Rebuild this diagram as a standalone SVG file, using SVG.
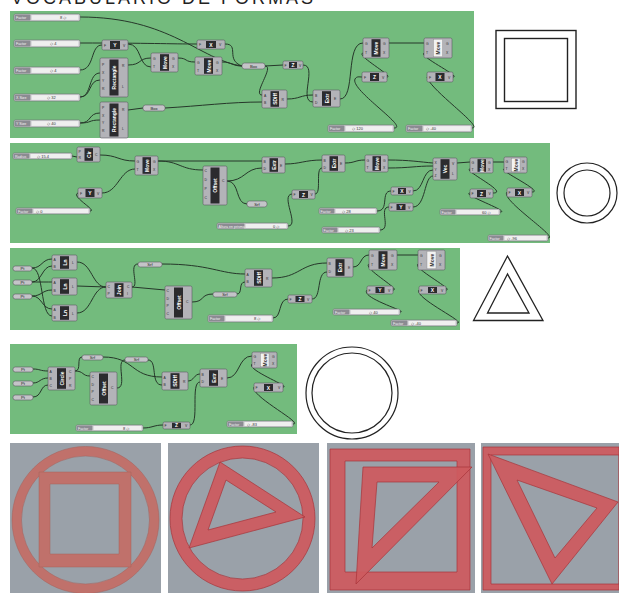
<svg xmlns="http://www.w3.org/2000/svg" width="619" height="593" viewBox="0 0 619 593">
<style>
text{font-family:"Liberation Sans","DejaVu Sans",sans-serif}
.title{font-size:18px;fill:#222;letter-spacing:3px}
.pan{fill:#73bb7d}
.c{fill:#b3b3b8;stroke:#5c5c62;stroke-width:0.6}
.k{fill:#2b2b2e}
.kl{fill:#f2f2f2;stroke:#8a8a8a;stroke-width:0.4}
.v{font-size:5px;font-weight:bold;fill:#fff;text-anchor:middle;dominant-baseline:central}
.vl{font-size:5px;font-weight:bold;fill:#333;text-anchor:middle;dominant-baseline:central}
.h{font-size:5px;font-weight:bold;fill:#fff;text-anchor:middle}
.i{font-size:3.4px;fill:#2a2a2a}
.p{fill:#c4c4c8;stroke:#5c5c62;stroke-width:0.6}
.pt{font-size:4.2px;fill:#222;text-anchor:middle}
.s{fill:#dadadd;stroke:#707075;stroke-width:0.6}
.sl{fill:#8b8b92}
.st{fill:#efefef}
.slt{font-size:3.6px;fill:#f4f4f4}
.sv{font-size:4px;fill:#333}
.w{fill:none;stroke:#26372a;stroke-width:1}
.bg{fill:#9aa1a9}
.ol{fill:none;stroke:#222;stroke-width:1.4}
.r{fill:#cd5a5f;fill-opacity:0.93;stroke:#a8343a;stroke-width:0.7;fill-rule:evenodd}
.r1{fill:#c0716b;stroke:#a5605a;stroke-width:0.5;fill-rule:evenodd}
</style>

<text class="title" x="11" y="4">VOCABULARIO  DE  FORMAS</text>

<g id="panels">
<rect class="pan" x="10" y="11" width="464" height="127"/>
<rect class="pan" x="10" y="143" width="540" height="100"/>
<rect class="pan" x="10" y="248" width="450" height="82"/>
<rect class="pan" x="10" y="344" width="287" height="90"/>
</g>

<g id="connectors">
<path class="w" d="M80,17 C170,17 200,60 242,66"/>
<path class="w" d="M80,43 C150,43 170,44 197,44"/>
<path class="w" d="M80,70 C95,70 90,45 102,45"/>
<path class="w" d="M80,97 C92,97 88,73 100,73"/>
<path class="w" d="M80,97 C92,97 88,80 100,80"/>
<path class="w" d="M80,123 C92,123 88,113 100,113"/>
<path class="w" d="M80,123 C92,123 88,120 100,120"/>
<path class="w" d="M128,44 C142,44 138,67 151,67"/>
<path class="w" d="M128,65 C142,65 138,58 151,58"/>
<path class="w" d="M178,58 C188,58 184,62 195,62"/>
<path class="w" d="M225,44 C240,44 225,60 242,66"/>
<path class="w" d="M222,62 C232,62 232,66 242,66"/>
<path class="w" d="M265,66 L283,65"/>
<path class="w" d="M265,66 C275,66 252,95 262,95"/>
<path class="w" d="M128,110 L143,108"/>
<path class="w" d="M165,108 C200,106 230,102 262,102"/>
<path class="w" d="M287,99 C300,99 300,95 313,95"/>
<path class="w" d="M303,65 C318,65 298,102 313,102"/>
<path class="w" d="M340,99 C356,99 345,43 363,43"/>
<path class="w" d="M389,43 L424,43"/>
<path class="w" d="M394,128 C410,128 350,90 355,79 C357,76 359,77 362,77"/>
<path class="w" d="M387,77 C395,77 355,55 363,53"/>
<path class="w" d="M472,128 C485,128 430,90 427,77"/>
<path class="w" d="M453,77 C462,77 418,56 424,53"/>
<path class="w" d="M72,156 L77,157"/>
<path class="w" d="M100,155 C118,155 118,161 135,161"/>
<path class="w" d="M102,193 C118,193 120,169 135,169"/>
<path class="w" d="M90,211 C98,211 70,196 78,193"/>
<path class="w" d="M158,161 L262,161"/>
<path class="w" d="M158,161 C180,161 180,170 203,170"/>
<path class="w" d="M227,181 C245,181 245,168 262,168"/>
<path class="w" d="M227,181 C240,181 235,204 247,204"/>
<path class="w" d="M288,226 C300,226 280,195 292,194"/>
<path class="w" d="M285,164 C300,164 305,160 322,160"/>
<path class="w" d="M315,194 C322,194 315,168 322,168"/>
<path class="w" d="M345,163 C355,163 355,160 365,160"/>
<path class="w" d="M388,160 C410,160 420,162 433,163"/>
<path class="w" d="M388,168 C410,168 415,166 433,166"/>
<path class="w" d="M413,191 C424,191 422,170 433,170"/>
<path class="w" d="M413,207 C426,207 424,176 433,176"/>
<path class="w" d="M377,211 C390,211 380,191 391,191"/>
<path class="w" d="M380,230 C392,230 378,207 389,207"/>
<path class="w" d="M457,163 L470,162"/>
<path class="w" d="M493,193 C510,193 462,170 470,169"/>
<path class="w" d="M500,212 C512,212 460,194 470,193"/>
<path class="w" d="M493,162 L504,162"/>
<path class="w" d="M532,192 C545,192 498,170 504,169"/>
<path class="w" d="M548,238 C560,238 500,200 507,192"/>
<path class="w" d="M32,268 C42,268 42,259 52,259"/>
<path class="w" d="M32,282 C42,282 42,266 52,266"/>
<path class="w" d="M32,282 C42,282 42,282 52,282"/>
<path class="w" d="M32,296 C42,296 42,290 52,290"/>
<path class="w" d="M32,296 C42,296 42,309 52,309"/>
<path class="w" d="M32,268 C44,268 40,316 52,316"/>
<path class="w" d="M77,262 C92,262 92,287 106,287"/>
<path class="w" d="M77,286 L106,287"/>
<path class="w" d="M77,313 C92,313 92,287 106,287"/>
<path class="w" d="M132,287 C140,287 128,264 138,264"/>
<path class="w" d="M132,287 L165,290"/>
<path class="w" d="M162,264 C210,264 220,274 245,274"/>
<path class="w" d="M192,302 C205,302 200,294 213,294"/>
<path class="w" d="M237,294 C243,294 238,282 245,282"/>
<path class="w" d="M272,278 C300,278 300,263 327,263"/>
<path class="w" d="M273,318 C282,318 278,299 288,299"/>
<path class="w" d="M312,299 C322,299 316,272 327,272"/>
<path class="w" d="M353,267 C362,267 360,255 369,255"/>
<path class="w" d="M397,255 L418,255"/>
<path class="w" d="M393,290 C402,290 362,268 369,264"/>
<path class="w" d="M400,312 C410,312 360,298 367,290"/>
<path class="w" d="M446,290 C455,290 412,268 418,264"/>
<path class="w" d="M457,323 C468,323 414,298 419,290"/>
<path class="w" d="M33,369 C40,369 40,371 48,371"/>
<path class="w" d="M33,383 C40,383 40,378 48,378"/>
<path class="w" d="M33,397 C42,397 40,385 48,385"/>
<path class="w" d="M75,371 C82,371 76,357 82,357"/>
<path class="w" d="M75,371 C84,371 82,376 90,376"/>
<path class="w" d="M103,357 C135,357 130,377 162,377"/>
<path class="w" d="M117,388 C128,388 115,360 125,360"/>
<path class="w" d="M148,360 C158,360 150,385 162,385"/>
<path class="w" d="M188,381 C194,381 194,374 200,374"/>
<path class="w" d="M190,425 C200,425 190,382 200,382"/>
<path class="w" d="M143,428 C152,428 154,425 163,425"/>
<path class="w" d="M227,378 C240,378 238,356 252,356"/>
<path class="w" d="M283,387 C292,387 246,370 252,364"/>
<path class="w" d="M293,424 C305,424 250,396 254,387"/>
</g>

<g id="s1" transform="translate(14,14)"><rect class="s" width="66" height="7" rx="1.5"/><rect class="sl" x="0.5" y="0.5" width="16" height="6" rx="1"/><text class="slt" x="2" y="5">Factor</text><rect class="st" x="18" y="1.2" width="46" height="4.6"/><text class="sv" x="46" y="5">8 ◇</text></g>
<g id="s2" transform="translate(14,40)"><rect class="s" width="66" height="7" rx="1.5"/><rect class="sl" x="0.5" y="0.5" width="16" height="6" rx="1"/><text class="slt" x="2" y="5">Factor</text><rect class="st" x="18" y="1.2" width="46" height="4.6"/><text class="sv" x="36" y="5">◇ 4</text></g>
<g id="s3" transform="translate(14,67)"><rect class="s" width="66" height="7" rx="1.5"/><rect class="sl" x="0.5" y="0.5" width="16" height="6" rx="1"/><text class="slt" x="2" y="5">Factor</text><rect class="st" x="18" y="1.2" width="46" height="4.6"/><text class="sv" x="36" y="5">◇ 4</text></g>
<g id="s4" transform="translate(14,94)"><rect class="s" width="66" height="7" rx="1.5"/><rect class="sl" x="0.5" y="0.5" width="16" height="6" rx="1"/><text class="slt" x="2" y="5">X Size</text><rect class="st" x="18" y="1.2" width="46" height="4.6"/><text class="sv" x="33" y="5">◇ 32</text></g>
<g id="s5" transform="translate(14,120)"><rect class="s" width="66" height="7" rx="1.5"/><rect class="sl" x="0.5" y="0.5" width="16" height="6" rx="1"/><text class="slt" x="2" y="5">Y Size</text><rect class="st" x="18" y="1.2" width="46" height="4.6"/><text class="sv" x="33" y="5">◇ 40</text></g>

<g id="y1" transform="translate(102,40)"><rect class="c" width="26" height="10" rx="1.5"/><rect class="k" x="8" y="1" width="10" height="8"/><text class="h" x="13" y="7">Y</text><text class="i" x="2" y="6.5">F</text><text class="i" x="21" y="6.5">V</text></g>
<g id="rect1" transform="translate(100,58)"><rect class="c" width="28" height="39" rx="1.5"/><rect class="k" x="9.5" y="1.5" width="9" height="36"/><text class="v" transform="translate(14,19.5) rotate(-90)">Rectangle</text><text class="i" x="2" y="8">P</text><text class="i" x="2" y="16">X</text><text class="i" x="2" y="24">Y</text><text class="i" x="2" y="32">R</text><text class="i" x="22" y="9">R</text><text class="i" x="22" y="30">L</text></g>
<g id="rect2" transform="translate(100,102)"><rect class="c" width="28" height="36" rx="1.5"/><rect class="k" x="9.5" y="1.5" width="9" height="33"/><text class="v" transform="translate(14,18) rotate(-90)">Rectangle</text><text class="i" x="2" y="7">P</text><text class="i" x="2" y="14.5">X</text><text class="i" x="2" y="22">Y</text><text class="i" x="2" y="29.5">R</text><text class="i" x="22" y="9">R</text><text class="i" x="22" y="28">L</text></g>
<g id="move1" transform="translate(151,53)"><rect class="c" width="27" height="19" rx="1.5"/><rect class="k" x="9" y="1.2" width="9" height="16.6"/><text class="v" transform="translate(13.5,9.5) rotate(-90)">Move</text><text class="i" x="2" y="7">G</text><text class="i" x="2" y="15">T</text><text class="i" x="21" y="7">G</text><text class="i" x="21" y="15">X</text></g>
<g id="x1" transform="translate(197,40)"><rect class="c" width="28" height="9" rx="1.5"/><rect class="k" x="9" y="1" width="10" height="7"/><text class="h" x="14" y="6.5">X</text><text class="i" x="2" y="6">F</text><text class="i" x="22" y="6">V</text></g>
<g id="move2" transform="translate(195,57)"><rect class="c" width="27" height="18" rx="1.5"/><rect class="k" x="9" y="1.2" width="9" height="15.6"/><text class="v" transform="translate(13.5,9) rotate(-90)">Move</text><text class="i" x="2" y="6.5">G</text><text class="i" x="2" y="14.5">T</text><text class="i" x="21" y="6.5">G</text><text class="i" x="21" y="14.5">X</text></g>
<g id="box1" transform="translate(242,63)"><rect class="p" width="23" height="6" rx="2.5"/><text class="pt" x="11.5" y="4.5">Box</text></g>
<g id="box2" transform="translate(143,105)"><rect class="p" width="22" height="6" rx="2.5"/><text class="pt" x="11" y="4.5">Box</text></g>
<g id="z1" transform="translate(283,61)"><rect class="c" width="20" height="8" rx="1.5"/><rect class="k" x="6" y="1" width="8" height="6"/><text class="h" x="10" y="6">Z</text><text class="i" x="1.5" y="5.5">F</text><text class="i" x="16" y="5.5">V</text></g>
<g id="sdiff1" transform="translate(262,90)"><rect class="c" width="25" height="18" rx="1.5"/><rect class="k" x="8.5" y="1.2" width="8.5" height="15.6"/><text class="v" transform="translate(12.7,9) rotate(-90)">SDiff</text><text class="i" x="2" y="6.5">A</text><text class="i" x="2" y="14">B</text><text class="i" x="19.5" y="10.5">R</text></g>
<g id="extr1" transform="translate(313,90)"><rect class="c" width="27" height="17" rx="1.5"/><rect class="k" x="9" y="1.2" width="9" height="14.6"/><text class="v" transform="translate(13.5,8.5) rotate(-90)">Extr</text><text class="i" x="2" y="6.5">B</text><text class="i" x="2" y="13.5">D</text><text class="i" x="21" y="10">E</text></g>
<g id="move3" transform="translate(363,38)"><rect class="c" width="26" height="20" rx="1.5"/><rect class="k" x="8.5" y="1.2" width="9" height="17.6"/><text class="v" transform="translate(13,10) rotate(-90)">Move</text><text class="i" x="2" y="7">G</text><text class="i" x="2" y="16">T</text><text class="i" x="20" y="7">G</text><text class="i" x="20" y="16">X</text></g>
<g id="move4" transform="translate(424,38)"><rect class="c" width="28" height="20" rx="1.5"/><rect class="kl" x="9.5" y="1.2" width="9" height="17.6"/><text class="vl" transform="translate(14,10) rotate(-90)">Move</text><text class="i" x="2" y="7">G</text><text class="i" x="2" y="16">T</text><text class="i" x="22" y="7">G</text><text class="i" x="22" y="16">X</text></g>
<g id="z2" transform="translate(362,72)"><rect class="c" width="25" height="10" rx="1.5"/><rect class="k" x="8" y="1" width="9" height="8"/><text class="h" x="12.5" y="7">Z</text><text class="i" x="2" y="6.5">F</text><text class="i" x="20" y="6.5">V</text></g>
<g id="x2" transform="translate(427,72)"><rect class="c" width="26" height="10" rx="1.5"/><rect class="k" x="8.5" y="1" width="9" height="8"/><text class="h" x="13" y="7">X</text><text class="i" x="2" y="6.5">F</text><text class="i" x="21" y="6.5">V</text></g>
<g id="s6" transform="translate(328,125)"><rect class="s" width="66" height="7" rx="1.5"/><rect class="sl" x="0.5" y="0.5" width="16" height="6" rx="1"/><text class="slt" x="2" y="5">Factor</text><rect class="st" x="18" y="1.2" width="46" height="4.6"/><text class="sv" x="24" y="5">◇ 120</text></g>
<g id="s7" transform="translate(406,125)"><rect class="s" width="66" height="7" rx="1.5"/><rect class="sl" x="0.5" y="0.5" width="16" height="6" rx="1"/><text class="slt" x="2" y="5">Factor</text><rect class="st" x="18" y="1.2" width="46" height="4.6"/><text class="sv" x="20" y="5">◇ -40</text></g>

<g id="s8" transform="translate(13,153)"><rect class="s" width="59" height="6" rx="1.5"/><rect class="sl" x="0.5" y="0.5" width="16" height="5" rx="1"/><text class="slt" x="2" y="4.5">Radius</text><rect class="st" x="18" y="1" width="39" height="4"/><text class="sv" x="24" y="4.5">◇ 15.4</text></g>
<g id="cir" transform="translate(77,147)"><rect class="c" width="23" height="15" rx="1.5"/><rect class="k" x="7.5" y="1.2" width="8.5" height="12.6"/><text class="v" transform="translate(11.7,7.5) rotate(-90)">Cir</text><text class="i" x="1.5" y="6">P</text><text class="i" x="1.5" y="12">R</text><text class="i" x="18" y="9">C</text></g>
<g id="move5" transform="translate(135,156)"><rect class="c" width="23" height="19" rx="1.5"/><rect class="k" x="7.5" y="1.2" width="8.5" height="16.6"/><text class="v" transform="translate(11.7,9.5) rotate(-90)">Move</text><text class="i" x="1.5" y="7">G</text><text class="i" x="1.5" y="15">T</text><text class="i" x="18" y="7">G</text><text class="i" x="18" y="15">X</text></g>
<g id="y2" transform="translate(78,188)"><rect class="c" width="24" height="10" rx="1.5"/><rect class="k" x="7.5" y="1" width="9" height="8"/><text class="h" x="12" y="7">Y</text><text class="i" x="2" y="6.5">F</text><text class="i" x="19" y="6.5">V</text></g>
<g id="s9" transform="translate(16,208)"><rect class="s" width="74" height="6" rx="1.5"/><rect class="sl" x="0.5" y="0.5" width="16" height="5" rx="1"/><text class="slt" x="2" y="4.5">Factor</text><rect class="st" x="18" y="1" width="54" height="4"/><text class="sv" x="20" y="4.5">◇ 0</text></g>
<g id="offset1" transform="translate(203,166)"><rect class="c" width="24" height="39" rx="1.5"/><rect class="k" x="7.5" y="1.5" width="9" height="36"/><text class="v" transform="translate(12,19.5) rotate(-90)">Offset</text><text class="i" x="1.5" y="6">C</text><text class="i" x="1.5" y="15">D</text><text class="i" x="1.5" y="24">P</text><text class="i" x="1.5" y="33">C</text><text class="i" x="19" y="16">C</text></g>
<g id="srf1" transform="translate(247,201)"><rect class="p" width="20" height="6" rx="2.5"/><text class="pt" x="10" y="4.5">Srf</text></g>
<g id="s10" transform="translate(217,223)"><rect class="s" width="71" height="6" rx="1.5"/><rect class="sl" x="0.5" y="0.5" width="27" height="5" rx="1"/><text class="slt" x="1.5" y="4.5">Altura en prisma</text><rect class="st" x="29" y="1" width="40" height="4"/><text class="sv" x="56" y="4.5">0 ◇</text></g>
<g id="extr2" transform="translate(262,157)"><rect class="c" width="23" height="16" rx="1.5"/><rect class="k" x="7.5" y="1.2" width="8.5" height="13.6"/><text class="v" transform="translate(11.7,8) rotate(-90)">Extr</text><text class="i" x="1.5" y="6">B</text><text class="i" x="1.5" y="13">D</text><text class="i" x="18" y="9.5">E</text></g>
<g id="z3" transform="translate(292,190)"><rect class="c" width="23" height="9" rx="1.5"/><rect class="k" x="7" y="1" width="9" height="7"/><text class="h" x="11.5" y="6.5">Z</text><text class="i" x="1.5" y="6">F</text><text class="i" x="18.5" y="6">V</text></g>
<g id="extr3" transform="translate(322,155)"><rect class="c" width="23" height="17" rx="1.5"/><rect class="k" x="7.5" y="1.2" width="8.5" height="14.6"/><text class="v" transform="translate(11.7,8.5) rotate(-90)">Extr</text><text class="i" x="1.5" y="6.5">B</text><text class="i" x="1.5" y="14">D</text><text class="i" x="18" y="10">E</text></g>
<g id="move6" transform="translate(365,155)"><rect class="c" width="23" height="17" rx="1.5"/><rect class="k" x="7.5" y="1.2" width="8.5" height="14.6"/><text class="v" transform="translate(11.7,8.5) rotate(-90)">Move</text><text class="i" x="1.5" y="6.5">G</text><text class="i" x="1.5" y="14">T</text><text class="i" x="18" y="6.5">G</text><text class="i" x="18" y="14">X</text></g>
<g id="vec" transform="translate(433,158)"><rect class="c" width="24" height="22" rx="1.5"/><rect class="k" x="7.5" y="1.2" width="9" height="19.6"/><text class="v" transform="translate(12,11) rotate(-90)">Vec</text><text class="i" x="1.5" y="6">X</text><text class="i" x="1.5" y="12.5">Y</text><text class="i" x="1.5" y="19">Z</text><text class="i" x="19" y="7">V</text><text class="i" x="19" y="17">L</text></g>
<g id="move7" transform="translate(470,158)"><rect class="c" width="23" height="15" rx="1.5"/><rect class="k" x="7.5" y="1.2" width="8.5" height="12.6"/><text class="v" transform="translate(11.7,7.5) rotate(-90)">Move</text><text class="i" x="1.5" y="6">G</text><text class="i" x="1.5" y="12.5">T</text><text class="i" x="18" y="6">G</text><text class="i" x="18" y="12.5">X</text></g>
<g id="move8" transform="translate(504,157)"><rect class="c" width="23" height="16" rx="1.5"/><rect class="kl" x="7.5" y="1.2" width="8.5" height="13.6"/><text class="vl" transform="translate(11.7,8) rotate(-90)">Move</text><text class="i" x="1.5" y="6">G</text><text class="i" x="1.5" y="13">T</text><text class="i" x="18" y="6">G</text><text class="i" x="18" y="13">X</text></g>
<g id="x3" transform="translate(391,187)"><rect class="c" width="22" height="8" rx="1.5"/><rect class="k" x="7" y="1" width="8" height="6"/><text class="h" x="11" y="6">X</text><text class="i" x="1.5" y="5.5">F</text><text class="i" x="17.5" y="5.5">V</text></g>
<g id="y3" transform="translate(389,203)"><rect class="c" width="24" height="8" rx="1.5"/><rect class="k" x="7.5" y="1" width="9" height="6"/><text class="h" x="12" y="6">Y</text><text class="i" x="1.5" y="5.5">F</text><text class="i" x="19" y="5.5">V</text></g>
<g id="z4" transform="translate(470,189)"><rect class="c" width="23" height="9" rx="1.5"/><rect class="k" x="7" y="1" width="9" height="7"/><text class="h" x="11.5" y="6.5">Z</text><text class="i" x="1.5" y="6">F</text><text class="i" x="18.5" y="6">V</text></g>
<g id="x4" transform="translate(507,188)"><rect class="c" width="25" height="9" rx="1.5"/><rect class="k" x="8" y="1" width="9" height="7"/><text class="h" x="12.5" y="6.5">X</text><text class="i" x="1.5" y="6">F</text><text class="i" x="20" y="6">V</text></g>
<g id="s11" transform="translate(319,208)"><rect class="s" width="58" height="6" rx="1.5"/><rect class="sl" x="0.5" y="0.5" width="15" height="5" rx="1"/><text class="slt" x="1.5" y="4.5">Factor</text><rect class="st" x="17" y="1" width="39" height="4"/><text class="sv" x="23" y="4.5">◇ 28</text></g>
<g id="s12" transform="translate(322,227)"><rect class="s" width="58" height="6" rx="1.5"/><rect class="sl" x="0.5" y="0.5" width="15" height="5" rx="1"/><text class="slt" x="1.5" y="4.5">Factor</text><rect class="st" x="17" y="1" width="39" height="4"/><text class="sv" x="23" y="4.5">◇ 23</text></g>
<g id="s13" transform="translate(440,209)"><rect class="s" width="60" height="6" rx="1.5"/><rect class="sl" x="0.5" y="0.5" width="15" height="5" rx="1"/><text class="slt" x="1.5" y="4.5">Factor</text><rect class="st" x="17" y="1" width="41" height="4"/><text class="sv" x="42" y="4.5">60 ◇</text></g>
<g id="s14" transform="translate(488,235)"><rect class="s" width="60" height="6" rx="1.5"/><rect class="sl" x="0.5" y="0.5" width="15" height="5" rx="1"/><text class="slt" x="1.5" y="4.5">Factor</text><rect class="st" x="17" y="1" width="41" height="4"/><text class="sv" x="19" y="4.5">◇ -96</text></g>

<g id="pt1" transform="translate(13,266)"><rect class="p" width="19" height="5" rx="2.2"/><text class="pt" x="9.5" y="4">Pt</text></g>
<g id="pt2" transform="translate(13,280)"><rect class="p" width="19" height="5" rx="2.2"/><text class="pt" x="9.5" y="4">Pt</text></g>
<g id="pt3" transform="translate(13,294)"><rect class="p" width="19" height="5" rx="2.2"/><text class="pt" x="9.5" y="4">Pt</text></g>
<g id="ln1" transform="translate(52,255)"><rect class="c" width="25" height="15" rx="1.5"/><rect class="k" x="8" y="1.2" width="9" height="12.6"/><text class="v" transform="translate(12.5,7.5) rotate(-90)">Ln</text><text class="i" x="1.5" y="5.5">A</text><text class="i" x="1.5" y="12.5">B</text><text class="i" x="20" y="9">L</text></g>
<g id="ln2" transform="translate(52,278)"><rect class="c" width="25" height="17" rx="1.5"/><rect class="k" x="8" y="1.2" width="9" height="14.6"/><text class="v" transform="translate(12.5,8.5) rotate(-90)">Ln</text><text class="i" x="1.5" y="6">A</text><text class="i" x="1.5" y="14">B</text><text class="i" x="20" y="10">L</text></g>
<g id="ln3" transform="translate(52,305)"><rect class="c" width="25" height="16" rx="1.5"/><rect class="k" x="8" y="1.2" width="9" height="13.6"/><text class="v" transform="translate(12.5,8) rotate(-90)">Ln</text><text class="i" x="1.5" y="6">A</text><text class="i" x="1.5" y="13.5">B</text><text class="i" x="20" y="9.5">L</text></g>
<g id="join" transform="translate(106,282)"><rect class="c" width="26" height="16" rx="1.5"/><rect class="k" x="8.5" y="1.2" width="9" height="13.6"/><text class="v" transform="translate(13,8) rotate(-90)">Join</text><text class="i" x="1.5" y="6">C</text><text class="i" x="1.5" y="13">P</text><text class="i" x="21" y="6">C</text><text class="i" x="21" y="13">I</text></g>
<g id="srf2" transform="translate(138,262)"><rect class="p" width="24" height="5" rx="2.2"/><text class="pt" x="12" y="4">Srf</text></g>
<g id="offset2" transform="translate(165,286)"><rect class="c" width="27" height="33" rx="1.5"/><rect class="k" x="9" y="1.5" width="9" height="30"/><text class="v" transform="translate(13.5,16.5) rotate(-90)">Offset</text><text class="i" x="1.5" y="6">C</text><text class="i" x="1.5" y="13.5">D</text><text class="i" x="1.5" y="21">P</text><text class="i" x="1.5" y="28.5">C</text><text class="i" x="21" y="17">C</text></g>
<g id="srf3" transform="translate(213,292)"><rect class="p" width="24" height="5" rx="2.2"/><text class="pt" x="12" y="4">Srf</text></g>
<g id="sdiff2" transform="translate(245,269)"><rect class="c" width="27" height="18" rx="1.5"/><rect class="k" x="9" y="1.2" width="9" height="15.6"/><text class="v" transform="translate(13.5,9) rotate(-90)">SDiff</text><text class="i" x="1.5" y="6.5">A</text><text class="i" x="1.5" y="14">B</text><text class="i" x="21" y="10.5">R</text></g>
<g id="s15" transform="translate(208,315)"><rect class="s" width="65" height="7" rx="1.5"/><rect class="sl" x="0.5" y="0.5" width="16" height="6" rx="1"/><text class="slt" x="2" y="5">Factor</text><rect class="st" x="18" y="1.2" width="45" height="4.6"/><text class="sv" x="46" y="5">8 ◇</text></g>
<g id="z5" transform="translate(288,295)"><rect class="c" width="24" height="8" rx="1.5"/><rect class="k" x="7.5" y="1" width="9" height="6"/><text class="h" x="12" y="6">Z</text><text class="i" x="1.5" y="5.5">F</text><text class="i" x="19" y="5.5">V</text></g>
<g id="extr4" transform="translate(327,258)"><rect class="c" width="26" height="19" rx="1.5"/><rect class="k" x="8.5" y="1.2" width="9" height="16.6"/><text class="v" transform="translate(13,9.5) rotate(-90)">Extr</text><text class="i" x="1.5" y="7">B</text><text class="i" x="1.5" y="15">D</text><text class="i" x="21" y="11">E</text></g>
<g id="move9" transform="translate(369,250)"><rect class="c" width="28" height="20" rx="1.5"/><rect class="k" x="9.5" y="1.2" width="9" height="17.6"/><text class="v" transform="translate(14,10) rotate(-90)">Move</text><text class="i" x="2" y="7">G</text><text class="i" x="2" y="16">T</text><text class="i" x="22" y="7">G</text><text class="i" x="22" y="16">X</text></g>
<g id="move10" transform="translate(418,250)"><rect class="c" width="27" height="20" rx="1.5"/><rect class="kl" x="9" y="1.2" width="9" height="17.6"/><text class="vl" transform="translate(13.5,10) rotate(-90)">Move</text><text class="i" x="2" y="7">G</text><text class="i" x="2" y="16">T</text><text class="i" x="21" y="7">G</text><text class="i" x="21" y="16">X</text></g>
<g id="y4" transform="translate(367,286)"><rect class="c" width="26" height="8" rx="1.5"/><rect class="k" x="8.5" y="1" width="9" height="6"/><text class="h" x="13" y="6">Y</text><text class="i" x="1.5" y="5.5">F</text><text class="i" x="21" y="5.5">V</text></g>
<g id="x5" transform="translate(419,286)"><rect class="c" width="27" height="8" rx="1.5"/><rect class="k" x="9" y="1" width="9" height="6"/><text class="h" x="13.5" y="6">X</text><text class="i" x="1.5" y="5.5">F</text><text class="i" x="22" y="5.5">V</text></g>
<g id="s16" transform="translate(333,309)"><rect class="s" width="67" height="6" rx="1.5"/><rect class="sl" x="0.5" y="0.5" width="16" height="5" rx="1"/><text class="slt" x="2" y="4.5">Factor</text><rect class="st" x="18" y="1" width="47" height="4"/><text class="sv" x="36" y="4.5">◇ 40</text></g>
<g id="s17" transform="translate(391,320)"><rect class="s" width="66" height="6" rx="1.5"/><rect class="sl" x="0.5" y="0.5" width="16" height="5" rx="1"/><text class="slt" x="2" y="4.5">Factor</text><rect class="st" x="18" y="1" width="46" height="4"/><text class="sv" x="20" y="4.5">◇ -40</text></g>

<g id="pt4" transform="translate(13,367)"><rect class="p" width="20" height="5" rx="2.2"/><text class="pt" x="10" y="4">Pt</text></g>
<g id="pt5" transform="translate(13,381)"><rect class="p" width="20" height="5" rx="2.2"/><text class="pt" x="10" y="4">Pt</text></g>
<g id="pt6" transform="translate(13,395)"><rect class="p" width="20" height="5" rx="2.2"/><text class="pt" x="10" y="4">Pt</text></g>
<g id="circle" transform="translate(48,367)"><rect class="c" width="27" height="23" rx="1.5"/><rect class="k" x="9" y="1.2" width="9" height="20.6"/><text class="v" transform="translate(13.5,11.5) rotate(-90)">Circle</text><text class="i" x="1.5" y="6">A</text><text class="i" x="1.5" y="13">B</text><text class="i" x="1.5" y="20">C</text><text class="i" x="21" y="6">C</text><text class="i" x="21" y="13">P</text><text class="i" x="21" y="20">R</text></g>
<g id="srf4" transform="translate(82,355)"><rect class="p" width="21" height="5" rx="2.2"/><text class="pt" x="10.5" y="4">Srf</text></g>
<g id="srf5" transform="translate(125,357)"><rect class="p" width="23" height="5" rx="2.2"/><text class="pt" x="11.5" y="4">Srf</text></g>
<g id="offset3" transform="translate(90,372)"><rect class="c" width="27" height="33" rx="1.5"/><rect class="k" x="9" y="1.5" width="9" height="30"/><text class="v" transform="translate(13.5,16.5) rotate(-90)">Offset</text><text class="i" x="1.5" y="6">C</text><text class="i" x="1.5" y="13.5">D</text><text class="i" x="1.5" y="21">P</text><text class="i" x="1.5" y="28.5">C</text><text class="i" x="21" y="17">C</text></g>
<g id="sdiff3" transform="translate(162,372)"><rect class="c" width="26" height="18" rx="1.5"/><rect class="k" x="8.5" y="1.2" width="9" height="15.6"/><text class="v" transform="translate(13,9) rotate(-90)">SDiff</text><text class="i" x="1.5" y="6.5">A</text><text class="i" x="1.5" y="14">B</text><text class="i" x="21" y="10.5">R</text></g>
<g id="extr5" transform="translate(200,369)"><rect class="c" width="27" height="18" rx="1.5"/><rect class="k" x="9" y="1.2" width="9" height="15.6"/><text class="v" transform="translate(13.5,9) rotate(-90)">Extr</text><text class="i" x="1.5" y="6.5">B</text><text class="i" x="1.5" y="14">D</text><text class="i" x="21" y="10.5">E</text></g>
<g id="move11" transform="translate(252,352)"><rect class="c" width="25" height="16" rx="1.5"/><rect class="kl" x="8.5" y="1.2" width="8.5" height="13.6"/><text class="vl" transform="translate(12.7,8) rotate(-90)">Move</text><text class="i" x="1.5" y="6">G</text><text class="i" x="1.5" y="13">T</text><text class="i" x="20" y="6">G</text><text class="i" x="20" y="13">X</text></g>
<g id="x6" transform="translate(254,383)"><rect class="c" width="29" height="9" rx="1.5"/><rect class="k" x="10" y="1" width="9" height="7"/><text class="h" x="14.5" y="6.5">X</text><text class="i" x="1.5" y="6">F</text><text class="i" x="24" y="6">V</text></g>
<g id="s18" transform="translate(76,425)"><rect class="s" width="67" height="6" rx="1.5"/><rect class="sl" x="0.5" y="0.5" width="16" height="5" rx="1"/><text class="slt" x="2" y="4.5">Factor</text><rect class="st" x="18" y="1" width="47" height="4"/><text class="sv" x="47" y="4.5">8 ◇</text></g>
<g id="z6" transform="translate(163,422)"><rect class="c" width="27" height="7" rx="1.5"/><rect class="k" x="9" y="0.8" width="9" height="5.4"/><text class="h" x="13.5" y="5.3">Z</text><text class="i" x="1.5" y="5">F</text><text class="i" x="22" y="5">V</text></g>
<g id="s19" transform="translate(227,421)"><rect class="s" width="66" height="6" rx="1.5"/><rect class="sl" x="0.5" y="0.5" width="16" height="5" rx="1"/><text class="slt" x="2" y="4.5">Factor</text><rect class="st" x="18" y="1" width="46" height="4"/><text class="sv" x="20" y="4.5">◇ -83</text></g>

<g id="shape-square">
<rect class="ol" x="496" y="30.5" width="80" height="78"/>
<rect class="ol" x="504.5" y="38.5" width="63" height="63"/>
</g>
<g id="shape-circle">
<circle class="ol" cx="587" cy="193" r="30" style="stroke-width:1.2"/>
<circle class="ol" cx="587" cy="193" r="23" style="stroke-width:1.2"/>
</g>
<g id="shape-triangle">
<polygon class="ol" points="507.5,256 473.5,320.5 543,320.5" style="stroke-width:1.3"/>
<polygon class="ol" points="507.5,274 487.5,313 529,313" style="stroke-width:1.3"/>
</g>
<g id="shape-circle2">
<circle class="ol" cx="352" cy="393" r="46" style="stroke-width:1.2"/>
<circle class="ol" cx="352" cy="393" r="40" style="stroke-width:1.2"/>
</g>

<g id="render1">
<rect class="bg" x="10" y="443" width="151" height="150"/>
<path class="r1" d="M12,520 a73.5,73.5 0 1 0 147,0 a73.5,73.5 0 1 0 -147,0 Z M21.5,520 a64,64 0 1 1 128,0 a64,64 0 1 1 -128,0 Z"/>
<path class="r1" d="M39,472 H131 V567 H39 Z M50,484 V554 H119 V484 Z"/>
</g>
<g id="render2">
<rect class="bg" x="168" y="443" width="151" height="150"/>
<path class="r" d="M170,518.5 a72.5,72.5 0 1 0 145,0 a72.5,72.5 0 1 0 -145,0 Z M182,518.5 a60.5,60.5 0 1 1 121,0 a60.5,60.5 0 1 1 -121,0 Z"/>
<path class="r" d="M220,462 L305,517 L189,548 Z M226,480 L208,530 L276,512 Z"/>
</g>
<g id="render3">
<rect class="bg" x="327" y="443" width="148" height="150"/>
<path class="r" d="M330,449 H470 V590 H330 Z M345,461 V572 H457 V461 Z"/>
<path class="r" d="M363,467 L472,467 L356,584 Z M377,482 L372,548 L439,482 Z"/>
</g>
<g id="render4">
<rect class="bg" x="481" y="443" width="138" height="150"/>
<path class="r" d="M483,447 H619 V590 H483 Z M491,455 V584 H619 V455 Z"/>
<path class="r" d="M488,454 L618,502 L552,584 Z M517,480 L555,558 L597,508 Z"/>
</g>
</svg>
